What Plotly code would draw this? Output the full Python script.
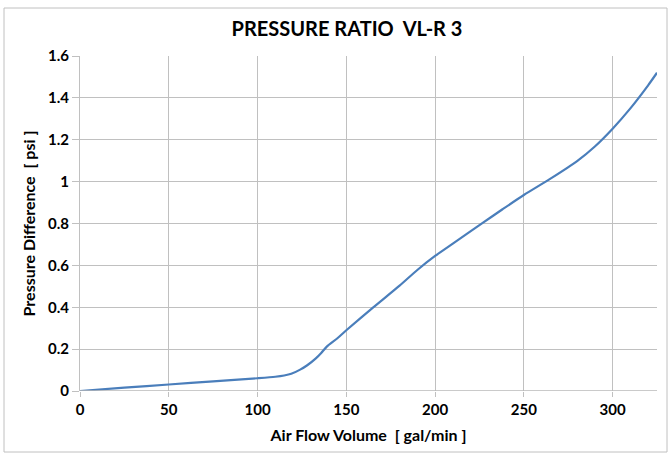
import plotly.graph_objects as go

air_flow = [0, 25, 50, 75, 100, 110, 115, 119, 124, 128, 133, 136, 139, 145, 150, 165, 180, 190, 200, 210, 226, 238, 250, 265, 280, 290, 300, 310, 320, 325]
pressure = [0, 0.016, 0.031, 0.046, 0.061, 0.068, 0.074, 0.082, 0.102, 0.123, 0.157, 0.183, 0.212, 0.252, 0.290, 0.398, 0.503, 0.578, 0.645, 0.704, 0.798, 0.868, 0.936, 1.014, 1.098, 1.168, 1.253, 1.350, 1.460, 1.520]

x_ticks = [0, 50, 100, 150, 200, 250, 300]
y_ticks = [0, 0.2, 0.4, 0.6, 0.8, 1, 1.2, 1.4, 1.6]
y_tick_labels = ["0", "0.2", "0.4", "0.6", "0.8", "1", "1.2", "1.4", "1.6"]

title_text = "PRESSURE RATIO  VL-R 3"
x_title = "Air Flow Volume  [ gal/min ]"
y_title = "Pressure Difference  [ psi ]"

font_family = "Lato, 'Open Sans', sans-serif"
grid_col = "#c0c0c0"

fig = go.Figure()
fig.add_trace(go.Scatter(
    x=air_flow, y=pressure, mode="lines",
    line=dict(color="#4a7ebb", width=2.2, shape="spline", smoothing=0.7),
    hoverinfo="x+y", showlegend=False,
))

fig.update_layout(
    width=670, height=454,
    margin=dict(l=80, r=13, t=56, b=63),
    paper_bgcolor="white", plot_bgcolor="white",
    font=dict(family=font_family, color="#000000"),
    title=dict(text="<b>" + title_text + "</b>", x=(347 - 80) / 577, xref="paper", xanchor="center",
               y=1 - 29 / 454, yanchor="middle", font=dict(size=20, family=font_family, color="#000000")),
    xaxis=dict(
        range=[0, 325], tickvals=x_ticks, ticktext=["<b>" + str(v) + "</b>" for v in x_ticks],
        showgrid=True, gridcolor=grid_col, gridwidth=1,
        zeroline=False, showline=False,
        ticks="outside", ticklen=5, tickcolor=grid_col,
        tickfont=dict(size=15, family=font_family, color="#000000"),
        title=dict(text="<b>" + x_title + "</b>", font=dict(size=16, family=font_family), standoff=12),
    ),
    yaxis=dict(
        range=[0, 1.6], tickvals=y_ticks, ticktext=["<b>" + t + "</b>" for t in y_tick_labels],
        showgrid=True, gridcolor=grid_col, gridwidth=1,
        zeroline=False, showline=True, linecolor=grid_col, linewidth=1,
        ticks="outside", ticklen=7, tickcolor=grid_col,
        tickfont=dict(size=15, family=font_family, color="#000000"),
        title=dict(text="<b>" + y_title + "</b>", font=dict(size=16, family=font_family), standoff=8),
    ),
)

# x-axis baseline
fig.add_shape(type="line", xref="paper", yref="y", x0=0, x1=1, y0=0, y1=0,
              line=dict(color="#b8b8b8", width=1.5))
# outer chart border
fig.add_shape(type="rect", xref="paper", yref="paper",
              x0=(4 - 80) / 577, x1=(667 - 80) / 577,
              y0=(391 - 452) / 335, y1=(391 - 8) / 335,
              line=dict(color="#c0c0c0", width=1))

fig.write_html("out.html", config={"displayModeBar": False},
               post_script="document.body.style.margin='0px';")
